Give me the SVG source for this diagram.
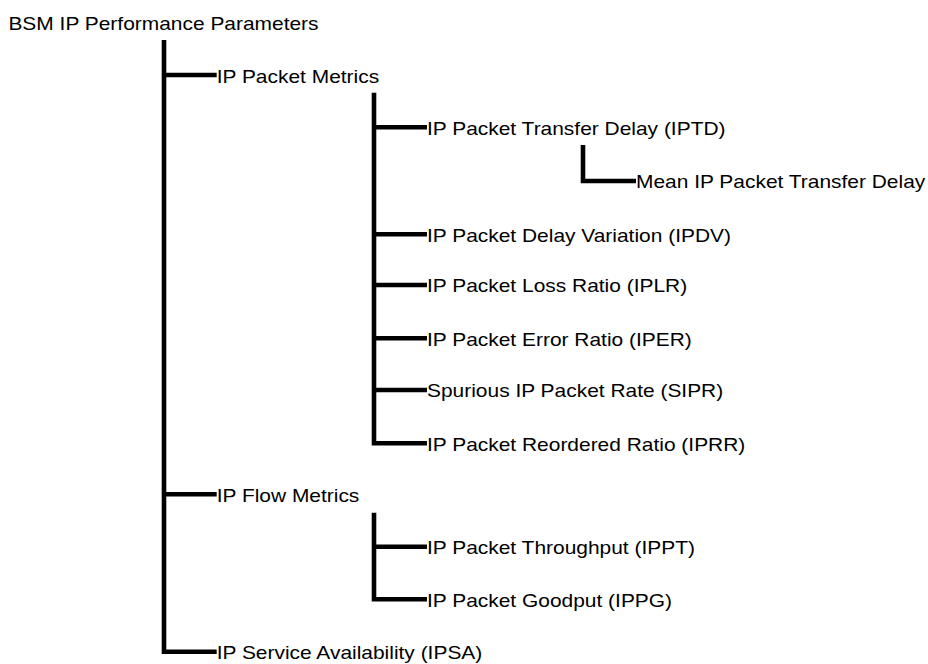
<svg xmlns="http://www.w3.org/2000/svg" width="928" height="664" viewBox="0 0 928 664">
<style>
.lbl{font-family:"Liberation Sans",Arial,Helvetica,sans-serif;font-size:18px;fill:#000}
.con{fill:none;stroke:#000;stroke-width:4.6;stroke-linejoin:miter;stroke-linecap:butt}
</style>
<rect width="928" height="664" fill="#fff"/>
<g id="connectors">
<path class="con" d="M164 40 V651.7 H216.7 M164 75 H216.7 M164 494.3 H216.7"/>
<path class="con" d="M374 92.7 V443.3 H427 M374 127.3 H427 M374 234.3 H427 M374 285 H427 M374 338.3 H427 M374 390 H427"/>
<path class="con" d="M583 145 V181 H636"/>
<path class="con" d="M374 512.7 V599.3 H427 M374 546.7 H427"/>
</g>
<g id="n-root"><text class="lbl" transform="translate(8.4 30) scale(1.163 1)">BSM IP Performance Parameters</text></g>
<g id="n-packet"><text class="lbl" transform="translate(216.7 82.8) scale(1.163 1)">IP Packet Metrics</text></g>
<g id="n-iptd"><text class="lbl" transform="translate(427 134.5) scale(1.163 1)">IP Packet Transfer Delay (IPTD)</text></g>
<g id="n-mean"><text class="lbl" transform="translate(636 188.3) scale(1.163 1)">Mean IP Packet Transfer Delay</text></g>
<g id="n-ipdv"><text class="lbl" transform="translate(427 241.5) scale(1.163 1)">IP Packet Delay Variation (IPDV)</text></g>
<g id="n-iplr"><text class="lbl" transform="translate(427 292.3) scale(1.163 1)">IP Packet Loss Ratio (IPLR)</text></g>
<g id="n-iper"><text class="lbl" transform="translate(427 345.5) scale(1.163 1)">IP Packet Error Ratio (IPER)</text></g>
<g id="n-sipr"><text class="lbl" transform="translate(427 397.3) scale(1.163 1)">Spurious IP Packet Rate (SIPR)</text></g>
<g id="n-iprr"><text class="lbl" transform="translate(427 450.5) scale(1.163 1)">IP Packet Reordered Ratio (IPRR)</text></g>
<g id="n-flow"><text class="lbl" transform="translate(216.7 501.5) scale(1.163 1)">IP Flow Metrics</text></g>
<g id="n-ippt"><text class="lbl" transform="translate(427 554) scale(1.163 1)">IP Packet Throughput (IPPT)</text></g>
<g id="n-ippg"><text class="lbl" transform="translate(427 606.5) scale(1.163 1)">IP Packet Goodput (IPPG)</text></g>
<g id="n-ipsa"><text class="lbl" transform="translate(216.7 659) scale(1.163 1)">IP Service Availability (IPSA)</text></g>
</svg>
